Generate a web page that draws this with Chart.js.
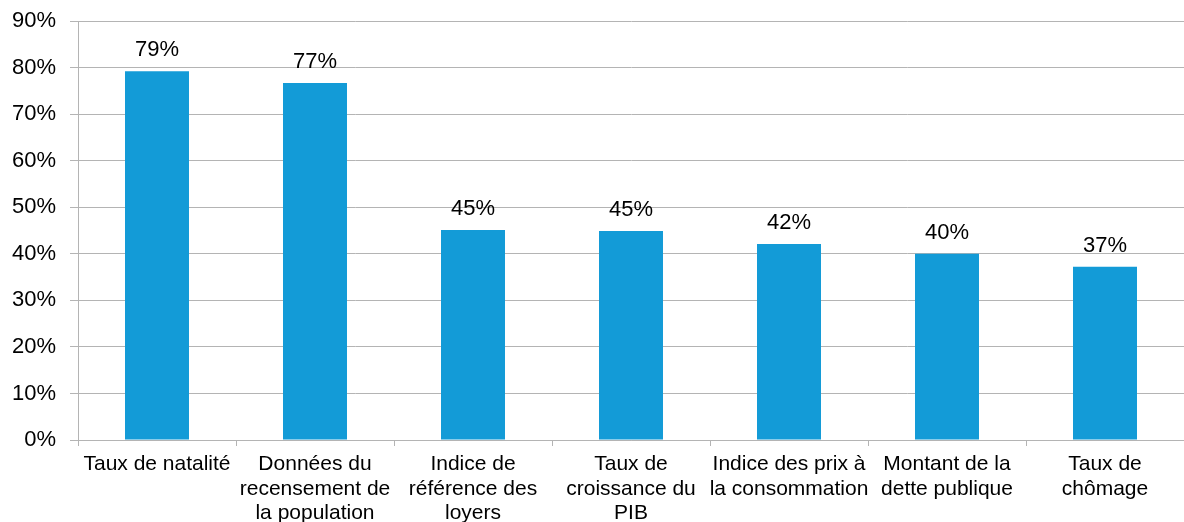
<!DOCTYPE html>
<html>
<head>
<meta charset="utf-8">
<script src="https://cdn.jsdelivr.net/npm/chart.js@4/dist/chart.umd.min.js"></script>
<style>
    html, body { margin: 0; padding: 0; background: #fff; }
    #wrap { width: 1184px; height: 522px; }
</style>
</head>
<body>
<div id="wrap"><canvas id="myChart"></canvas></div>
<script>
// categories (split on lines like the original)
const categories = [
    ['Taux de natalité'],
    ['Données du', 'recensement de', 'la population'],
    ['Indice de', 'référence des', 'loyers'],
    ['Taux de', 'croissance du', 'PIB'],
    ['Indice des prix à', 'la consommation'],
    ['Montant de la', 'dette publique'],
    ['Taux de', 'chômage']
];
const values = [79.2, 76.7, 45.1, 44.9, 42.1, 40.0, 37.2];
const yTicks = [0, 10, 20, 30, 40, 50, 60, 70, 80, 90];

const gridGray = '#b4b4b4';
const fontFamily = '"Liberation Sans", Arial, sans-serif';

// draw the value above each bar
const barLabels = {
    id: 'barLabels',
    afterDatasetsDraw(chart) {
        const ctx = chart.ctx;
        const meta = chart.getDatasetMeta(0);
        ctx.save();
        ctx.font = '22px ' + fontFamily;
        ctx.fillStyle = '#000';
        ctx.textAlign = 'center';
        ctx.textBaseline = 'alphabetic';
        meta.data.forEach((bar, i) => {
            ctx.fillText(Math.round(values[i]) + '%', bar.x, bar.y - 15);
        });
        ctx.restore();
    }
};

const ctx = document.getElementById('myChart').getContext('2d');
new Chart(ctx, {
    type: 'bar',
    data: {
        labels: categories,
        datasets: [{
            data: values,
            backgroundColor: '#139bd7',
            borderWidth: 0,
            categoryPercentage: 1,
            barPercentage: 0.405
        }]
    },
    options: {
        responsive: true,
        maintainAspectRatio: false,
        animation: false,
        layout: { padding: { top: 21, right: 0, left: 0, bottom: 0 } },
        plugins: {
            legend: false,
            tooltip: { enabled: false }
        },
        scales: {
            x: {
                offset: true,
                grid: {
                    offset: true,
                    drawOnChartArea: false,
                    drawTicks: true,
                    tickLength: 6,
                    color: gridGray
                },
                border: { color: gridGray, width: 1 },
                ticks: {
                    color: '#000',
                    font: { family: fontFamily, size: 21, lineHeight: 1.17 },
                    maxRotation: 0,
                    autoSkip: false,
                    padding: 6
                },
                afterFit(scale) { scale.height = 82; }
            },
            y: {
                min: 0,
                max: 90,
                afterBuildTicks(scale) {
                    scale.ticks = yTicks.map(v => ({ value: v }));
                },
                grid: {
                    color: gridGray,
                    tickLength: 8
                },
                border: { color: gridGray, width: 1 },
                ticks: {
                    color: '#000',
                    font: { family: fontFamily, size: 22 },
                    padding: 14,
                    callback: v => v + '%'
                },
                afterFit(scale) {
                    scale.width = 78;
                    scale.paddingTop = 0;
                    scale.paddingBottom = 0;
                }
            }
        }
    },
    plugins: [barLabels]
});
</script>
</body>
</html>
